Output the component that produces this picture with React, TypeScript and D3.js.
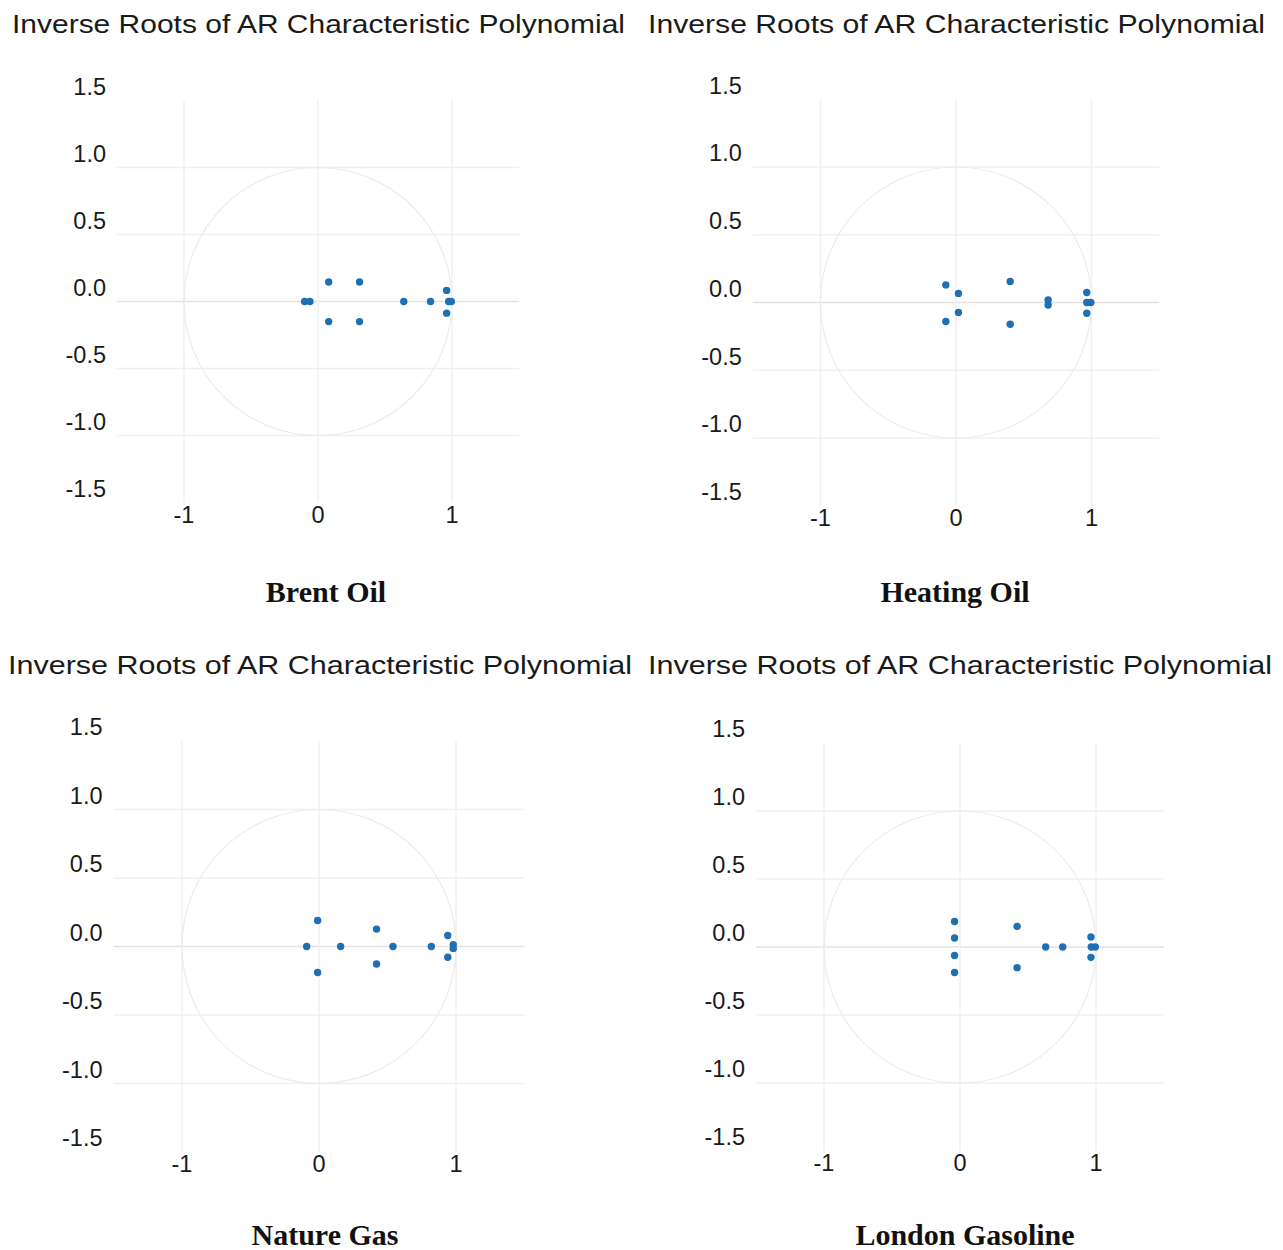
import * as d3 from "d3";
import React from "react";

const brentRoots = [
  [-0.1, 0], [-0.06, 0], [0.08, 0.145], [0.08, -0.15], [0.31, 0.145], [0.31, -0.15],
  [0.64, 0], [0.84, 0], [0.975, 0], [0.995, 0], [0.96, 0.083], [0.96, -0.087],
];
const heatingRoots = [
  [-0.075, 0.13], [-0.075, -0.14], [0.018, 0.067], [0.018, -0.074], [0.4, 0.155], [0.4, -0.16],
  [0.68, 0.018], [0.68, -0.018], [0.965, 0.074], [0.965, -0.079], [0.965, 0], [0.995, 0],
];
const gasRoots = [
  [-0.09, 0], [-0.01, 0.19], [-0.01, -0.19], [0.158, 0], [0.42, 0.127], [0.42, -0.128],
  [0.54, 0], [0.82, 0], [0.94, 0.08], [0.94, -0.079], [0.98, 0.014], [0.98, -0.014],
];
const gasolineRoots = [
  [-0.04, 0.187], [-0.04, 0.066], [-0.04, -0.063], [-0.04, -0.187], [0.42, 0.152], [0.42, -0.152],
  [0.63, 0], [0.755, 0], [0.963, 0.073], [0.963, -0.076], [0.965, 0], [0.995, 0],
];

const yTicks = [1.5, 1.0, 0.5, 0.0, -0.5, -1.0, -1.5];
const yGrid = [1.0, 0.5, 0.0, -0.5, -1.0];
const xTicks = [-1, 0, 1];
const panelTitle = "Inverse Roots of AR Characteristic Polynomial";

const panels = [
  { name: "Brent Oil", roots: brentRoots, cx: 318, cy: 301.5, unit: 134, tx: 12, ty: 33, tl: 613, sx: 326, sy: 602 },
  { name: "Heating Oil", roots: heatingRoots, cx: 956, cy: 302.5, unit: 135.5, tx: 648, ty: 33, tl: 617, sx: 955, sy: 602 },
  { name: "Nature Gas", roots: gasRoots, cx: 319, cy: 946.5, unit: 137, tx: 8, ty: 674, tl: 624, sx: 325, sy: 1245 },
  { name: "London Gasoline", roots: gasolineRoots, cx: 960, cy: 947, unit: 136, tx: 648, ty: 674, tl: 624, sx: 965, sy: 1245 },
];

const sans = "'Liberation Sans', Arial, Helvetica, sans-serif";
const serif = "'Liberation Serif', 'Times New Roman', serif";

const Panel = ({ p }) => {
  const x = d3.scaleLinear().domain([-1.5, 1.5]).range([p.cx - 1.5 * p.unit, p.cx + 1.5 * p.unit]);
  const y = d3.scaleLinear().domain([-1.5, 1.5]).range([p.cy + 1.5 * p.unit, p.cy - 1.5 * p.unit]);
  const r = x(1) - x(0);
  const [x0, x1] = x.range();
  const [y1, y0] = y.range();

  return (
    <g>
      <text x={p.tx} y={p.ty} fontFamily={sans} fontSize={26.5} fill="#1a1a1a"
        textLength={p.tl} lengthAdjust="spacingAndGlyphs">{panelTitle}</text>

      {yGrid.map((v) => (
        <line key={"h" + v} x1={x0} x2={x1} y1={y(v)} y2={y(v)}
          stroke={v === 0 ? "#e2e2e2" : "#f0f0f0"} strokeWidth={1.5} />
      ))}
      {xTicks.map((v) => (
        <line key={"v" + v} x1={x(v)} x2={x(v)} y1={y0} y2={y1} stroke="#f0f0f0" strokeWidth={1.5} />
      ))}
      <circle cx={x(0)} cy={y(0)} r={r} fill="none" stroke="#ececec" strokeWidth={1.2} />

      {yTicks.map((v) => (
        <text key={"yt" + v} x={x0 - 11} y={y(v) - 14} dy="0.36em" textAnchor="end"
          fontFamily={sans} fontSize={23.5} fill="#1a1a1a">{v.toFixed(1)}</text>
      ))}
      {xTicks.map((v) => (
        <text key={"xt" + v} x={x(v)} y={y(-1.5) + 12} dy="0.36em" textAnchor="middle"
          fontFamily={sans} fontSize={23.5} fill="#1a1a1a">{String(v)}</text>
      ))}

      {p.roots.map((d, i) => (
        <circle key={i} cx={x(d[0])} cy={y(d[1])} r={3.7} fill="#1f6fb4" />
      ))}

      <text x={p.sx} y={p.sy} textAnchor="middle" fontFamily={serif} fontWeight="bold"
        fontSize={30} fill="#111">{p.name}</text>
    </g>
  );
};

export default function App() {
  return (
    <svg width={1283} height={1250} style={{ position: "absolute", left: 0, top: 0, background: "#fff" }}>
      <rect width={1283} height={1250} fill="#fff" />
      {panels.map((p) => <Panel key={p.name} p={p} />)}
    </svg>
  );
}
